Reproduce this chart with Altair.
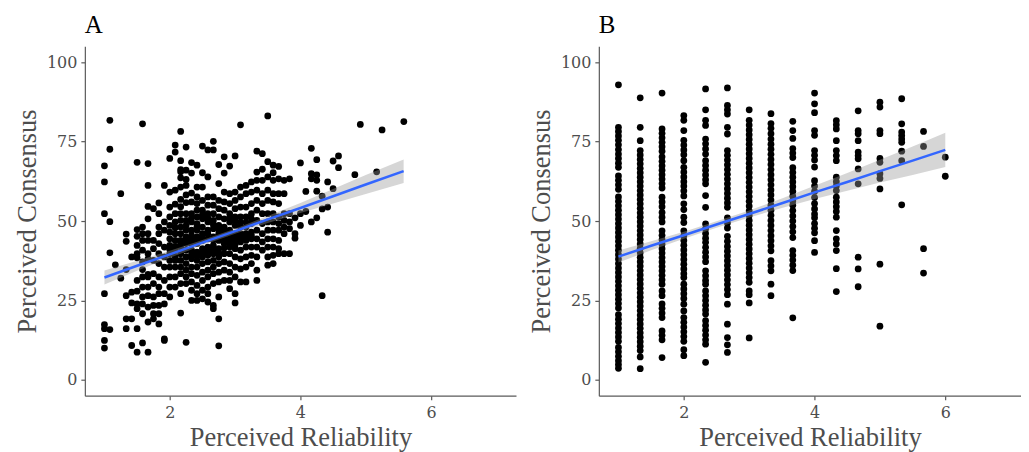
import altair as alt
import pandas as pd

# ---------------- Panel A data (x level -> list of y values) ----------------
a_x_levels = [1.0, 1.083, 1.167, 1.25, 1.333, 1.417, 1.5, 1.583, 1.667, 1.75, 1.833, 1.917,
              2.0, 2.083, 2.167, 2.25, 2.333, 2.417, 2.5, 2.583, 2.667, 2.75, 2.833, 2.917,
              3.0, 3.083, 3.167, 3.25, 3.333, 3.417, 3.5, 3.583, 3.667, 3.75, 3.833, 3.917,
              4.0, 4.083, 4.167, 4.25, 4.333, 4.417, 4.5, 4.583, 4.833, 4.917, 5.167, 5.25, 5.583]
a_y_lists = [
    [67.4, 62.3, 52.3, 27.1, 17.4, 16.1, 12.4, 10.0],
    [81.7, 72.6, 49.8, 40.0, 15.8],
    [36.2],
    [58.6, 32.0],
    [45.9, 43.6, 34.7, 26.5, 19.2, 16.1],
    [38.7, 27.6, 24.2, 19.2, 10.8],
    [68.5, 47.3, 45.2, 42.3, 39.7, 38.4, 31.3, 27.9, 23.9, 22.4, 16.1, 8.7],
    [80.6, 48.1, 46.0, 43.9, 40.8, 37.1, 34.7, 32.4, 29.2, 26.1, 23.9, 20.8, 11.6],
    [68.1, 61.2, 54.6, 50.7, 46.0, 43.9, 39.7, 38.1, 33.2, 32.4, 29.2, 26.5, 22.9, 18.2, 8.7],
    [53.9, 43.9, 41.3, 37.6, 33.4, 30.3, 26.1, 23.4, 20.8, 19.2],
    [55.7, 52.3, 48.1, 46.0, 42.9, 39.7, 36.6, 32.4, 29.2, 27.1, 23.4, 20.8, 17.6],
    [61.2, 49.7, 47.1, 41.8, 38.7, 35.5, 31.3, 27.1, 23.9, 12.4, 12.9],
    [69.7, 59.1, 54.4, 51.3, 48.6, 46.5, 44.4, 42.3, 41.0, 39.7, 37.6, 35.5, 32.4, 29.2, 26.1],
    [73.9, 71.7, 59.7, 55.3, 52.3, 49.7, 47.9, 46.0, 43.9, 42.0, 40.8, 38.9, 37.6, 35.5, 32.4, 29.2],
    [78.2, 69.0, 66.2, 65.5, 63.6, 60.7, 56.8, 54.5, 52.3, 50.2, 48.1, 46.0, 43.9, 42.9, 41.8, 39.7,
     37.6, 35.5, 33.4, 30.3, 27.1, 21.0],
    [73.3, 66.0, 63.1, 61.2, 58.2, 55.8, 52.3, 50.2, 48.6, 47.1, 45.0, 44.0, 42.9, 40.8, 38.7, 36.6,
     34.5, 32.4, 30.3, 11.8],
    [68.4, 65.1, 58.8, 56.0, 52.3, 51.0, 49.7, 47.1, 45.5, 44.2, 42.9, 40.8, 39.5, 38.1, 35.5, 33.4,
     30.8, 28.2, 25.0],
    [67.6, 60.7, 57.6, 55.5, 53.4, 51.3, 49.2, 48.3, 47.1, 45.0, 44.0, 42.9, 40.2, 39.0, 37.6, 35.5,
     32.9, 29.7, 27.1, 25.0],
    [73.6, 65.2, 60.7, 56.5, 53.4, 52.0, 50.7, 48.1, 46.0, 44.9, 43.9, 41.3, 40.0, 38.7, 36.6, 33.9,
     31.3, 28.2, 25.5],
    [72.4, 63.9, 57.6, 55.0, 52.3, 51.0, 49.7, 47.1, 46.0, 44.4, 41.8, 40.5, 39.2, 37.1, 34.5, 32.4,
     29.2, 27.1, 24.5],
    [75.1, 72.4, 57.6, 55.0, 52.3, 50.2, 48.9, 47.6, 45.0, 44.0, 42.3, 41.0, 39.7, 37.6, 35.5, 33.4,
     30.3, 23.4, 22.4],
    [67.8, 61.8, 56.5, 53.9, 51.3, 48.6, 47.3, 46.0, 44.9, 43.9, 41.3, 40.0, 38.7, 36.6, 33.9, 30.8,
     26.1, 19.2, 10.7],
    [70.2, 65.1, 59.1, 56.0, 53.4, 50.7, 48.1, 46.8, 45.5, 44.2, 42.9, 41.5, 39.7, 37.1, 34.5, 31.3],
    [67.3, 58.6, 55.5, 52.3, 50.9, 49.7, 47.1, 46.0, 44.4, 43.0, 41.8, 39.7, 36.6, 33.9, 31.3, 28.7],
    [70.5, 59.1, 56.5, 53.9, 51.3, 50.0, 48.6, 46.0, 45.0, 43.9, 42.5, 41.3, 38.7, 35.5, 32.4, 27.1,
     24.2],
    [80.3, 60.7, 57.6, 54.4, 51.3, 49.6, 48.1, 46.0, 44.7, 43.4, 40.8, 38.1, 34.9, 30.8],
    [61.2, 58.6, 54.4, 51.3, 49.6, 48.1, 46.0, 45.0, 43.9, 41.8, 38.7, 35.5, 30.8],
    [62.3, 59.1, 55.5, 52.3, 50.7, 49.2, 46.5, 45.4, 44.4, 41.8, 39.2, 36.6],
    [72.0, 65.4, 62.8, 59.7, 56.5, 53.4, 50.2, 47.1, 44.4, 41.8, 38.7, 34.5, 31.3],
    [71.2, 66.3, 62.8, 58.6, 55.5, 52.3, 49.2, 46.0, 43.4, 40.8],
    [83.1, 68.7, 63.9, 59.7, 56.5, 52.3, 49.7, 47.1, 44.4, 41.8, 38.7, 36.1],
    [67.6, 65.2, 62.8, 58.6, 56.0, 52.3, 49.7, 47.1, 44.4, 41.8, 39.2, 36.6],
    [67.2, 63.3, 58.6, 55.5, 51.3, 49.2, 47.1, 43.9, 41.3, 39.7],
    [62.8, 58.6, 52.3, 50.2, 48.1, 46.0, 39.7],
    [63.3, 52.3, 49.7, 47.6, 39.7],
    [46.0, 44.6, 51.0],
    [68.3, 52.3, 48.6],
    [59.3, 53.0],
    [72.9, 64.9, 63.3, 49.7],
    [69.3, 64.5, 62.8, 59.4, 51.0],
    [57.8, 53.8, 26.5],
    [62.3, 54.4, 46.5],
    [68.9, 60.2],
    [70.5, 66.8],
    [64.6],
    [80.4],
    [65.5],
    [78.7],
    [81.3],
]

# ---------------- Panel B data (x level -> list of y values) ----------------
b_x_levels = [1.0, 1.333, 1.667, 2.0, 2.333, 2.667, 3.0, 3.333, 3.667, 4.0, 4.333, 4.667, 5.0, 5.333, 5.667, 6.0]
b_y_lists = [
    [92.9, 79.5, 78.2, 76.8, 75.4, 74.0, 72.5, 71.1, 69.7, 68.2, 66.9, 64.2, 62.8, 61.4, 60.0, 57.6,
     56.2, 54.8, 53.4, 52.0, 50.6, 49.2, 47.8, 46.4, 45.0, 43.6, 42.2, 40.8, 39.4, 38.0, 36.6, 35.2,
     33.8, 32.4, 31.0, 29.6, 28.2, 26.8, 25.4, 24.0, 22.6, 20.5, 19.1, 17.7, 16.3, 14.9, 13.5, 12.1,
     10.2, 8.8, 7.4, 6.0, 4.8, 3.6],
    [88.8, 79.5, 75.3, 72.2, 70.8, 69.4, 68.0, 66.6, 65.2, 63.8, 62.4, 61.0, 59.6, 58.2, 56.8, 55.4,
     54.0, 52.6, 51.2, 49.8, 48.4, 47.0, 45.6, 44.2, 42.8, 41.4, 40.0, 38.6, 37.2, 35.8, 34.4, 33.0,
     31.6, 30.2, 28.8, 27.4, 26.0, 24.6, 23.2, 21.8, 20.4, 19.0, 17.6, 16.2, 14.8, 13.4, 12.0, 10.6,
     9.2, 7.2, 3.5],
    [90.3, 79.0, 77.6, 76.2, 74.8, 73.4, 72.0, 70.2, 68.8, 67.4, 66.0, 64.6, 63.2, 61.8, 60.4, 57.5,
     56.0, 54.5, 52.7, 51.2, 49.7, 46.9, 45.5, 44.1, 42.7, 41.3, 39.9, 38.5, 37.1, 35.7, 34.3, 32.9,
     31.5, 30.1, 28.0, 26.5, 23.9, 22.5, 21.0, 19.6, 15.4, 14.0, 12.6, 7.0],
    [83.2, 81.7, 78.5, 75.4, 73.9, 72.4, 70.9, 69.0, 66.9, 65.4, 63.9, 62.4, 61.0, 59.5, 57.9, 55.4,
     53.6, 51.2, 49.5, 46.9, 45.4, 43.9, 42.4, 40.9, 39.4, 37.9, 36.4, 34.9, 33.4, 32.2, 30.1, 28.6,
     27.1, 25.6, 23.8, 21.7, 19.6, 18.1, 16.6, 15.1, 13.6, 12.1, 9.5, 7.6],
    [91.6, 85.0, 81.7, 80.1, 75.8, 74.3, 72.7, 71.1, 69.0, 67.5, 66.0, 64.5, 63.0, 61.7, 58.0, 54.3,
     49.1, 47.6, 46.1, 44.6, 43.3, 41.7, 40.2, 38.7, 37.2, 34.3, 32.8, 31.3, 30.1, 28.0, 26.5, 25.0,
     23.5, 22.0, 20.7, 18.6, 17.1, 15.6, 14.1, 12.6, 11.2, 5.5],
    [91.9, 86.4, 85.0, 83.7, 79.5, 77.4, 72.2, 70.7, 69.2, 67.7, 66.2, 64.7, 63.2, 61.7, 60.2, 58.7,
     57.2, 55.7, 54.3, 51.0, 49.4, 47.8, 45.2, 43.6, 42.0, 40.5, 39.0, 37.5, 36.0, 34.5, 33.0, 31.5,
     30.0, 28.4, 26.8, 23.8, 17.5, 13.3, 11.0, 8.6],
    [85.0, 81.7, 80.2, 78.7, 77.2, 75.7, 74.2, 72.7, 71.2, 69.7, 68.2, 66.7, 65.2, 63.7, 62.2, 60.7,
     59.2, 57.7, 56.2, 54.7, 53.2, 51.7, 50.2, 48.7, 47.2, 45.7, 44.2, 42.7, 41.2, 39.7, 38.2, 36.7,
     35.2, 33.7, 32.2, 30.7, 28.0, 26.8, 24.2, 13.2],
    [83.8, 80.7, 79.2, 77.5, 75.8, 74.2, 72.6, 71.0, 69.4, 67.8, 66.2, 64.6, 63.0, 61.4, 59.8, 58.2,
     56.6, 55.0, 53.4, 51.8, 50.2, 48.6, 47.0, 45.4, 43.8, 42.2, 40.6, 37.5, 35.9, 34.3, 30.1, 26.5],
    [81.4, 78.5, 76.0, 72.8, 71.4, 70.0, 66.8, 65.3, 63.8, 62.3, 60.8, 59.3, 57.8, 56.3, 55.0, 53.3,
     51.6, 50.0, 48.3, 46.6, 44.8, 40.7, 39.2, 37.7, 36.1, 34.4, 19.5],
    [90.3, 86.9, 84.1, 78.5, 77.0, 72.2, 70.7, 69.2, 67.0, 62.7, 61.0, 59.3, 57.4, 55.5, 53.8, 52.2,
     51.0, 49.2, 47.7, 46.3, 43.8, 40.1],
    [81.6, 80.3, 79.0, 75.3, 72.2, 70.6, 69.0, 63.8, 62.4, 61.0, 59.6, 57.5, 56.0, 54.5, 53.0, 51.2,
     47.0, 44.4, 42.8, 40.7, 35.0, 27.8],
    [84.7, 78.5, 77.5, 75.3, 71.7, 70.6, 69.6, 66.4, 61.7, 38.6, 34.9, 29.3],
    [87.4, 85.9, 78.5, 77.5, 69.7, 68.5, 64.9, 63.4, 60.1, 36.4, 16.9],
    [88.5, 80.6, 78.0, 76.9, 75.8, 74.8, 72.0, 69.0, 55.1],
    [78.2, 73.5, 41.3, 33.6],
    [70.1, 64.1],
]

# ---------------- fitted lines and confidence bands ----------------
a_fit_x = [1.0, 1.5, 2.0, 2.5, 3.0, 3.5, 4.0, 4.5, 5.0, 5.58]
a_fit_y = [32.2, 35.9, 39.5, 43.2, 46.8, 50.5, 54.1, 57.8, 61.5, 65.7]
a_fit_lo = [30.0, 34.3, 38.4, 42.4, 46.0, 49.4, 52.5, 55.5, 58.5, 62.0]
a_fit_hi = [34.4, 37.5, 40.6, 44.0, 47.6, 51.6, 55.7, 60.1, 64.5, 69.4]

b_fit_x = [1.0, 1.5, 2.0, 2.5, 3.0, 3.5, 4.0, 4.5, 5.0, 5.5, 6.0]
b_fit_y = [38.8, 42.2, 45.5, 48.9, 52.2, 55.6, 59.0, 62.3, 65.7, 69.0, 72.4]
b_fit_lo = [36.9, 40.8, 44.4, 47.9, 51.1, 54.1, 56.9, 59.5, 62.1, 64.5, 67.0]
b_fit_hi = [40.7, 43.6, 46.6, 49.9, 53.3, 57.1, 61.1, 65.1, 69.3, 73.5, 77.8]

FONT = "Liberation Serif"
LABEL_FONT = "DejaVu Serif"


def points_frame(levels, lists):
    rows = []
    for xv, ys in zip(levels, lists):
        for yv in ys:
            rows.append({"x": xv, "y": yv})
    return pd.DataFrame(rows)


def panel(levels, lists, fx, fy, flo, fhi, label, xmax, width):
    pts_df = points_frame(levels, lists)
    sm_df = pd.DataFrame({"x": fx, "fit": fy, "lo": flo, "hi": fhi})
    xs = alt.Scale(domain=[0.7, xmax], nice=False, zero=False)
    ys = alt.Scale(domain=[-5, 105], nice=False, zero=False)
    xa = alt.Axis(values=[2, 4, 6], title="Perceived Reliability", grid=False)
    ya = alt.Axis(values=[0, 25, 50, 75, 100], title="Perceived Consensus", grid=False)
    pts = alt.Chart(pts_df).mark_circle(size=46, color="black", opacity=1).encode(
        x=alt.X("x:Q", scale=xs, axis=xa),
        y=alt.Y("y:Q", scale=ys, axis=ya),
    )
    band = alt.Chart(sm_df).mark_area(color="#999999", opacity=0.4).encode(
        x=alt.X("x:Q", scale=xs, axis=xa),
        y=alt.Y("lo:Q", scale=ys, axis=ya),
        y2="hi:Q",
    )
    line = alt.Chart(sm_df).mark_line(color="#3366FF", strokeWidth=2.5).encode(
        x=alt.X("x:Q", scale=xs, axis=xa),
        y=alt.Y("fit:Q", scale=ys, axis=ya),
    )
    return alt.layer(pts, band, line).properties(
        width=width,
        height=350,
        title=alt.TitleParams(label, anchor="start", frame="group", font=FONT, fontSize=25,
                              fontWeight="normal", color="black", offset=8),
    )


# panel B is slightly narrower so that the page does not overflow horizontally
pa = panel(a_x_levels, a_y_lists, a_fit_x, a_fit_y, a_fit_lo, a_fit_hi, "A", 7.3, 432)
pb = panel(b_x_levels, b_y_lists, b_fit_x, b_fit_y, b_fit_lo, b_fit_hi, "B", 7.158, 423)

chart = alt.hconcat(pa, pb, spacing=12).properties(
    padding={"left": 6, "top": 5, "right": 0, "bottom": 0}
).configure_view(stroke=None).configure_axis(
    domainColor="#5a5a5a",
    domainWidth=1.2,
    tickColor="#5a5a5a",
    tickSize=4,
    tickWidth=1.2,
    labelFont=LABEL_FONT,
    labelFontSize=16,
    labelColor="#4d4d4d",
    labelPadding=4,
    titleFont=FONT,
    titleFontSize=26.5,
    titleFontWeight="normal",
    titleColor="#4d4d4d",
    titlePadding=5,
).configure_axisBottom(labelPadding=5, titlePadding=4)

chart.save("out.html", embed_options={"renderer": "svg", "actions": False})
